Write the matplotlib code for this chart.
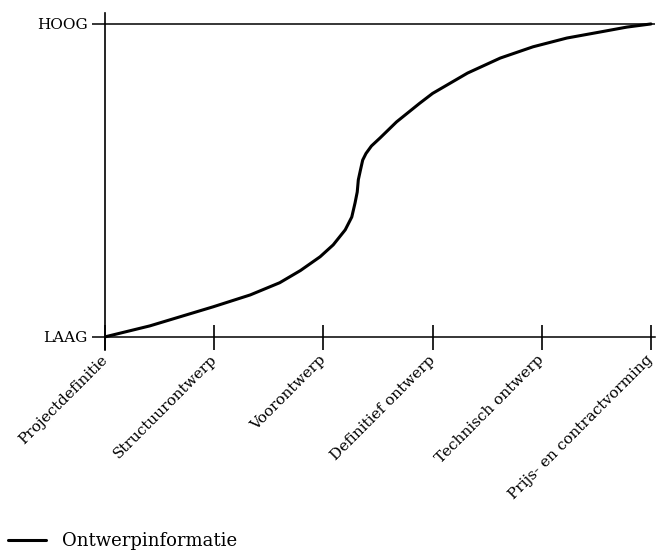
import matplotlib.pyplot as plt

# Phases on the x axis, curve (x in phase units, y in % of HOOG)
fasen = ['Projectdefinitie', 'Structuurontwerp', 'Voorontwerp',
         'Definitief ontwerp', 'Technisch ontwerp', 'Prijs- en contractvorming']
curve_x = [0.0, 0.41, 0.99, 1.33, 1.60, 1.79, 1.97, 2.09, 2.20, 2.26, 2.29,
           2.31, 2.32, 2.34, 2.36, 2.39, 2.44, 2.52, 2.67, 2.88, 3.00, 3.32,
           3.62, 3.92, 4.23, 4.53, 4.78, 5.0]
curve_y = [0.0, 3.5, 9.6, 13.4, 17.3, 21.2, 25.6, 29.4, 34.2, 38.3, 42.8,
           46.3, 50.2, 53.4, 56.5, 58.6, 61.0, 63.6, 68.7, 74.6, 77.8, 84.3,
           89.1, 92.7, 95.5, 97.4, 99.0, 100.0]
niveaus = [0, 100]
niveau_labels = ['LAAG', 'HOOG']

plt.rcParams['font.family'] = ['DejaVu Serif']

W, H = 658, 551
fig = plt.figure(figsize=(W / 100, H / 100), dpi=100)
# axes box: left at the y axis, from the top of the y axis line down to its bottom end
ax = fig.add_axes([105 / W, 1 - 350 / H, (655 - 105) / W, (350 - 13) / H])

ax.plot(curve_x, curve_y, color='black', lw=2.2, solid_capstyle='round',
        solid_joinstyle='round', label='Ontwerpinformatie', zorder=3)
ax.axhline(100, color='black', lw=1.1)

ax.set_xlim(0, 5.037)
ax.set_ylim(-4.2, 103.5)

for side in ['top', 'right']:
    ax.spines[side].set_visible(False)
ax.spines['bottom'].set_position(('data', 0))
ax.spines['left'].set_linewidth(1.2)
ax.spines['bottom'].set_linewidth(1.1)

ax.set_xticks(range(len(fasen)))
ax.set_xticklabels(fasen, rotation=45, ha='right', va='center',
                   rotation_mode='anchor', fontsize=11)
ax.tick_params(axis='x', direction='inout', length=18, width=1.2, pad=6)

ax.set_yticks(niveaus)
ax.set_yticklabels(niveau_labels, fontsize=11)
ax.tick_params(axis='y', direction='out', length=9.5, width=1.1, pad=3)

fig.legend(loc='lower left', bbox_to_anchor=(8 / W, 1 / H), frameon=False,
           fontsize=13, handlelength=2.1, handletextpad=0.9,
           borderpad=0, borderaxespad=0)

fig.savefig('out.png', dpi=100)
